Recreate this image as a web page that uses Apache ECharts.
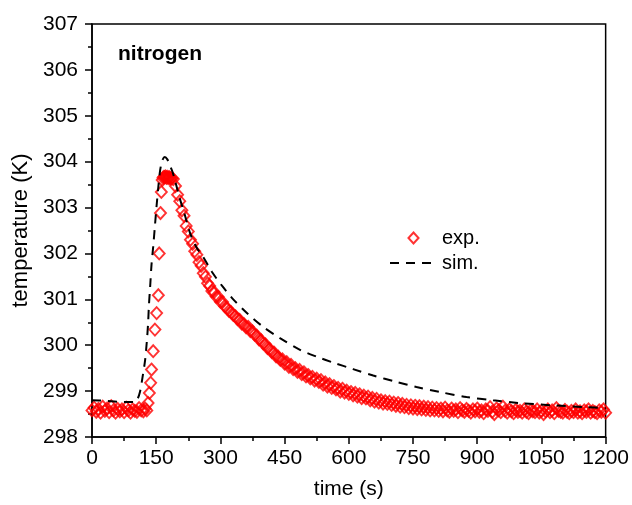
<!DOCTYPE html>
<html>
<head>
<meta charset="utf-8">
<script src="https://cdn.jsdelivr.net/npm/echarts@6/dist/echarts.min.js"></script>
<style>html,body{margin:0;padding:0;background:#fff}#c{width:632px;height:505px}</style>
</head>
<body>
<div id="c"></div>
<script>
// ---- data ----
const xTicks = [0, 150, 300, 450, 600, 750, 900, 1050, 1200];
const yTicks = [298, 299, 300, 301, 302, 303, 304, 305, 306, 307];

const expTime = [
  0,5,10,15,20,25,30,35,40,45,50,55,60,65,70,75,80,85,90,95,100,105,110,115,120,
  124,128,131,134,137,139,143,147,151,155,157,160,162,164,166,168,170,172,174,176,178,180,182,184,187,
  190,195,200,205,210,215,220,225,230,235,240,245,250,255,260,265,270,275,280,285,290,295,300,305,310,315,320,325,330,335,340,345,350,355,360,365,370,375,380,385,390,395,400,
  405,410,415,420,425,430,435,440,445,450,455,460,465,470,475,480,485,490,495,500,505,510,515,520,525,530,535,540,545,550,555,560,565,570,575,580,585,590,595,600,
  605,610,615,620,625,630,635,640,645,650,655,660,665,670,675,680,685,690,695,700,705,710,715,720,725,730,735,740,745,750,755,760,765,770,775,780,785,790,795,800,
  805,810,815,820,825,830,835,840,845,850,855,860,865,870,875,880,885,890,895,900,905,910,915,920,925,930,935,940,945,950,955,960,965,970,975,980,985,990,995,1000,
  1005,1010,1015,1020,1025,1030,1035,1040,1045,1050,1055,1060,1065,1070,1075,1080,1085,1090,1095,1100,1105,1110,1115,1120,1125,1130,1135,1140,1145,1150,1155,1160,1165,1170,1175,1180,1185,1190,1195,1200
];
const expTemp = [
  298.58,298.64,298.55,298.61,298.53,298.66,298.57,298.62,298.54,298.67,298.58,298.53,298.61,298.56,298.6,298.54,298.64,298.58,298.53,298.6,298.57,298.55,298.63,298.58,298.56,
  298.62,298.58,298.74,298.96,299.18,299.47,299.87,300.34,300.7,301.09,302.0,302.88,303.34,303.6,303.65,303.67,303.66,303.68,303.65,303.67,303.64,303.66,303.65,303.63,303.64,
  303.62,303.47,303.28,303.14,302.94,302.82,302.6,302.48,302.3,302.21,302.05,301.97,301.81,301.73,301.57,301.49,301.35,301.29,301.18,301.16,301.06,301.05,300.95,300.94,300.85,300.81,300.75,300.72,300.66,300.63,300.57,300.55,300.47,300.46,300.39,300.4,300.31,300.3,300.23,300.21,300.13,300.11,300.04,
  300.02,299.94,299.92,299.85,299.84,299.76,299.75,299.68,299.69,299.6,299.63,299.53,299.57,299.48,299.5,299.42,299.46,299.37,299.41,299.32,299.35,299.28,299.31,299.23,299.27,299.2,299.24,299.14,299.19,299.1,299.15,299.07,299.11,299.04,299.07,298.99,299.05,298.97,299.01,298.94,
  298.98,298.91,298.96,298.88,298.93,298.85,298.9,298.84,298.88,298.8,298.85,298.77,298.83,298.75,298.8,298.73,298.78,298.72,298.77,298.7,298.75,298.68,298.74,298.66,298.72,298.65,298.7,298.63,298.69,298.62,298.68,298.61,298.67,298.6,298.66,298.59,298.65,298.58,298.64,298.58,
  298.63,298.57,298.62,298.56,298.64,298.58,298.55,298.62,298.57,298.6,298.54,298.63,298.58,298.55,298.61,298.57,298.53,298.6,298.56,298.62,298.55,298.58,298.52,298.6,298.57,298.65,298.55,298.5,298.62,298.58,298.54,298.66,298.57,298.53,298.6,298.56,298.52,298.59,298.55,298.57,
  298.53,298.6,298.55,298.52,298.58,298.56,298.54,298.6,298.53,298.57,298.5,298.56,298.6,298.54,298.58,298.52,298.63,298.57,298.55,298.53,298.59,298.55,298.52,298.57,298.54,298.6,298.53,298.56,298.52,298.58,298.55,298.6,298.53,298.57,298.54,298.52,298.58,298.55,298.6,298.53
];

const simTime = [0,30,60,90,100,106,112,118,124,128,131,133,136,139,143,147,151,155,159,164,170,176,182,188,195,205,215,230,245,260,280,305,330,360,400,440,486,525,564,610,657,711,758,813,875,937,999,1077,1155,1200];
const simTemp = [298.8,298.79,298.77,298.76,298.76,298.82,298.98,299.3,299.67,300.07,300.47,300.87,301.3,301.75,302.15,302.6,303.05,303.45,303.8,304.02,304.1,304.05,303.92,303.78,303.55,303.2,302.9,302.42,302.12,301.92,301.6,301.28,301.0,300.72,300.4,300.15,299.9,299.75,299.62,299.48,299.34,299.2,299.09,298.98,298.87,298.8,298.74,298.69,298.65,298.63];

// ---- chart ----
const FONT = 'Liberation Sans, Arial, sans-serif';
const expData = expTime.map((t, i) => [t, expTemp[i]]);
const simData = simTime.map((t, i) => [t, simTemp[i]]);

const axisCommon = {
  axisLine: {show: true, onZero: false, lineStyle: {color: '#000', width: 1.5}},
  axisTick: {show: true, inside: false, length: 7, lineStyle: {color: '#000', width: 1.5}},
  minorTick: {show: true, splitNumber: 2, length: 4, lineStyle: {color: '#000', width: 1.5}},
  splitLine: {show: false}
};
const labelStyle = {color: '#000', fontSize: 21, fontFamily: FONT, formatter: v => String(v)};

const chart = echarts.init(document.getElementById('c'), null, {renderer: 'canvas'});
chart.setOption({
  animation: false,
  backgroundColor: '#fff',
  title: {
    text: 'nitrogen', left: 113, top: 39,
    textStyle: {fontSize: 21, fontWeight: 'bold', color: '#000', fontFamily: FONT}
  },
  legend: {
    orient: 'vertical', left: 384, top: 223,
    itemWidth: 47, itemHeight: 11, itemGap: 5,
    symbolKeepAspect: true,
    textStyle: {fontSize: 20, color: '#000', fontFamily: FONT},
    data: [
      {name: 'exp.', icon: 'path://M0,-6L5.5,0L0,6L-5.5,0Z'},
      {name: 'sim.', itemStyle: {opacity: 0}}
    ]
  },
  grid: {left: 92, right: 26, top: 24, bottom: 68, show: true, borderColor: '#000', borderWidth: 1.5, containLabel: false},
  xAxis: Object.assign({}, axisCommon, {
    type: 'value', min: xTicks[0], max: xTicks[xTicks.length - 1], interval: 150,
    name: 'time (s)', nameLocation: 'middle', nameGap: 42,
    nameTextStyle: {color: '#000', fontSize: 21, fontFamily: FONT},
    axisLabel: Object.assign({}, labelStyle, {margin: 11})
  }),
  yAxis: Object.assign({}, axisCommon, {
    type: 'value', min: yTicks[0], max: yTicks[yTicks.length - 1], interval: 1,
    name: 'temperature (K)', nameLocation: 'middle', nameGap: 57,
    nameTextStyle: {color: '#000', fontSize: 22, fontFamily: FONT},
    axisLabel: Object.assign({}, labelStyle, {margin: 14})
  }),
  series: [
    {
      name: 'exp.', type: 'scatter', data: expData,
      symbol: 'diamond', symbolSize: [11, 12],
      itemStyle: {color: 'rgba(255,0,0,0)', borderColor: '#ff0000', borderWidth: 1.9},
      z: 2
    },
    {
      name: 'sim.', type: 'line', data: simData, smooth: 0.3,
      symbol: 'none', showSymbol: false,
      lineStyle: {color: '#000', width: 2, type: [9, 7]},
      itemStyle: {color: '#000'},
      z: 3
    }
  ]
});
</script>
</body>
</html>
